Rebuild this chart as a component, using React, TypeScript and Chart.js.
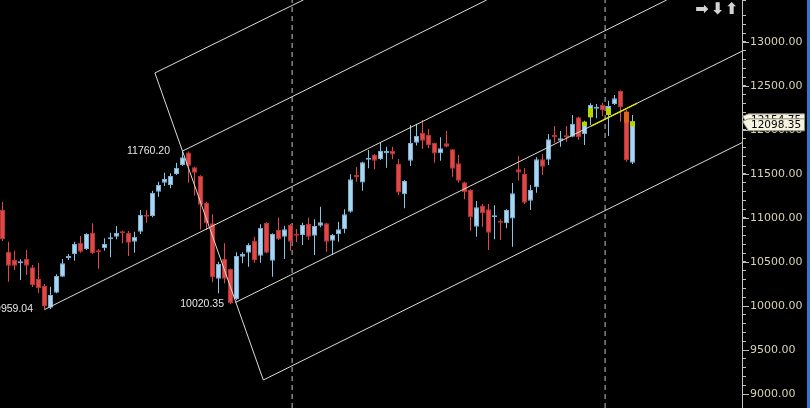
import React, { useEffect, useRef } from 'react';
import { Chart, registerables } from 'chart.js';

Chart.register(...registerables);

// ---- candle data (daily bars, index 0 = leftmost) ----
const opens = [
  11091, 10617, 10522, 10485, 10534, 10439, 10306, 10227, 9980, 10151,
  10333, 10545, 10591, 10719, 10647, 10833, 10628, 10655, 10758, 10787,
  10844, 10833, 10730, 10844, 11034, 11022, 11299, 11401, 11375, 11500,
  11602, 11745, 11576, 11477, 11170, 10940, 10310, 10534, 10420, 10079,
  10560, 10605, 10738, 10571, 10943, 10514, 10864, 10787, 10920, 10818,
  10806, 10932, 10799, 10912, 10940, 10742, 10815, 10871, 11071, 11488,
  11403, 11662, 11716, 11670, 11735, 11761, 11614, 11269, 11651, 11856,
  11966, 11943, 11852, 11735, 11849, 11781, 11621, 11406, 11318, 10901,
  11142, 11099, 11008, 10966, 10940, 10994, 11553, 11500, 11196, 11349,
  11667, 11662, 11943, 11878, 11932, 11924, 12144, 11951, 12144, 12242,
  12284, 12170, 12295, 12443, 12208, 11628,
];
const highs = [
  11182, 10730, 10628, 10531, 10636, 10466, 10488, 10250, 10219, 10360,
  10534, 10591, 10730, 10795, 10826, 10939, 10644, 10769, 10833, 10909,
  10855, 10852, 10844, 11091, 11091, 11310, 11412, 11515, 11508, 11628,
  11760.2, 11755, 11583, 11485, 11185, 11042, 10503, 10712, 10425, 10610,
  10610, 10712, 10787, 10928, 10951, 10826, 11003, 10912, 10932, 10875,
  10946, 11003, 10985, 11128, 10946, 10818, 10958, 11099, 11497, 11579,
  11640, 11773, 11727, 11856, 11810, 11810, 11670, 11432, 12057, 12071,
  12114, 12011, 11855, 11917, 11989, 11784, 11716, 11412, 11326, 11193,
  11159, 11159, 11144, 10985, 11099, 11398, 11705, 11565, 11375, 11690,
  11727, 11954, 12045, 11989, 12045, 12170, 12150, 12106, 12303, 12295,
  12310, 12333, 12398, 12450, 12227, 12170,
];
const lows = [
  10739, 10276, 10409, 10295, 10352, 10216, 10147, 9959.04, 9965, 10144,
  10330, 10522, 10514, 10605, 10636, 10591, 10424, 10628, 10553, 10758,
  10712, 10568, 10605, 10818, 10950, 11008, 11242, 11363, 11337, 11488,
  11591, 11401, 11256, 10869, 10864, 10269, 10144, 10258, 10020.35, 10068,
  10485, 10446, 10492, 10492, 10599, 10333, 10750, 10534, 10628, 10724,
  10693, 10750, 10579, 10894, 10617, 10579, 10730, 10826, 11060, 11412,
  11310, 11565, 11553, 11659, 11571, 11667, 11261, 11110, 11591, 11824,
  11784, 11792, 11628, 11651, 11803, 11469, 11401, 11212, 10856, 10787,
  10901, 10636, 10758, 10750, 10883, 10674, 11426, 11159, 11091, 11287,
  11488, 11602, 11856, 11810, 11867, 11917, 11886, 11829, 12057, 12133,
  12159, 11932, 12284, 12094, 11640, 11613,
];
const closes = [
  10761, 10458, 10458, 10508, 10458, 10235, 10201, 10000, 10125, 10341,
  10485, 10568, 10704, 10617, 10818, 10599, 10610, 10704, 10772, 10833,
  10826, 10719, 10787, 11034, 11015, 11287, 11375, 11443, 11477, 11571,
  11690, 11594, 11515, 11151, 10940, 10326, 10477, 10310, 10030, 10568,
  10591, 10693, 10522, 10886, 10605, 10818, 10758, 10871, 10730, 10799,
  10920, 10787, 10909, 10951, 10730, 10806, 10871, 11042, 11440, 11460,
  11633, 11678, 11651, 11761, 11761, 11721, 11290, 11420, 11852, 11932,
  11878, 11829, 11733, 11792, 11810, 11560, 11424, 11292, 11008, 11122,
  11053, 10833, 11030, 10946, 11091, 11281, 11517, 11174, 11318, 11668,
  11583, 11894, 11917, 11905, 11917, 12068, 11917, 12094, 12284, 12258,
  12227, 12273, 12360, 12258, 11659, 12098.35,
];

// highlighted body segments (lime / orange) near the yellow line
const highlightIdx = [97, 98, 101, 104, 105];
const highlightFrom = [12045, 12144, 12170, 12085, 12040];
const highlightTo = [12094, 12250, 12250, 12208, 12098];
const highlightKind = ['lime', 'lime', 'lime', 'orange', 'lime'];

// channel / pitchfork lines (bar index, price)
const lineFromIdx = [25.4, 25.4, 30.0, 7.0, 38.8, 43.47];
const lineFromPrice = [12648, 12648, 11760.2, 9959.04, 10040, 9159];
const lineToIdx = [43.47, 50.2, 80.7, 110.7, 123.4, 123.4];
const lineToPrice = [9159, 13480, 13477, 13477, 12900, 11861];

// yellow highlighted segment
const yellowIdx = [98.1, 105.8];
const yellowPrice = [12044, 12305];

// vertical dashed separators
const dividerIdx = [48.27, 100.43];

// price annotations
const labelIdx = [30, 38, 7];
const labelPrice = [11760.2, 10020.35, 9959.04];
const labelText = ['11760.20', '10020.35', '9959.04'];

// axis
const yMin = 8841;
const yMax = 13477;
const yTickStep = 100;
const yLabelStep = 500;
const xMin = -0.41667;
const xMax = 123.25;

// price tags
const tagPrices = [12154.75, 12098.35];
const tagTexts = ['12154.75', '12098.35'];

const RED = '#e04848';
const RED_BORDER = '#b83434';
const BLUE = '#a9d5ee';
const BLUE_BORDER = '#78aed6';
const BLUE_WICK = '#8cc4e6';
const LIME = '#b4d600';
const ORANGE = '#e4621c';
const LINE = '#dcdcd4';

const overlayPlugin = {
  id: 'overlayPlugin',
  afterDraw(chart: any) {
    const ctx = chart.ctx;
    const xs = chart.scales.x;
    const ys = chart.scales.y;
    ctx.save();
    // major ticks
    ctx.strokeStyle = '#bdbdbd';
    ctx.lineWidth = 1;
    ys.ticks.forEach((t: any) => {
      if (Math.abs(t.value % yLabelStep) < 1e-6) {
        const py = Math.round(ys.getPixelForValue(t.value)) + 0.5;
        ctx.beginPath();
        ctx.moveTo(ys.left, py);
        ctx.lineTo(ys.left + 7, py);
        ctx.stroke();
      }
    });
    // annotations
    const dx = [12.5, 6.5, 11.5];
    ctx.font = '10.5px "Liberation Sans", Arial, sans-serif';
    ctx.fillStyle = '#e6e6e6';
    ctx.textAlign = 'right';
    ctx.textBaseline = 'middle';
    labelText.forEach((t, k) => {
      const px = xs.getPixelForValue(labelIdx[k]) - dx[k];
      const py = ys.getPixelForValue(labelPrice[k]);
      ctx.fillText(t, px, py);
    });
    // tags
    tagPrices.forEach((p, k) => {
      const y = ys.getPixelForValue(p);
      const top = y - 2.5;
      const bot = y + 9.5;
      const l = ys.left;
      ctx.beginPath();
      ctx.moveTo(l + 0.5, y);
      ctx.lineTo(l + 6.5, top);
      ctx.lineTo(804.5, top);
      ctx.lineTo(804.5, bot);
      ctx.lineTo(l + 6.5, bot);
      ctx.closePath();
      ctx.fillStyle = '#f6f3de';
      ctx.fill();
      ctx.strokeStyle = '#8c8c84';
      ctx.stroke();
      ctx.fillStyle = '#000';
      ctx.font = '10.5px "DejaVu Sans", sans-serif';
      ctx.textAlign = 'left';
      ctx.textBaseline = 'middle';
      ctx.fillText(tagTexts[k], l + 9, (top + bot) / 2 + 0.5);
    });
    // arrows
    ctx.fillStyle = '#d2d2d2';
    ctx.font = 'bold 16px "DejaVu Sans", sans-serif';
    ctx.textAlign = 'center';
    ctx.textBaseline = 'middle';
    ctx.fillText('\u27A1', 702, 10);
    ctx.fillText('\u2B07', 717.5, 10);
    ctx.fillText('\u2B06', 731.5, 10);
    // right blue stripe
    ctx.fillStyle = '#2c7bd0';
    ctx.fillRect(807, 0, 3, chart.height);
    ctx.restore();
  },
};

export default function App() {
  const ref = useRef<HTMLCanvasElement>(null);

  useEffect(() => {
    document.body.style.margin = '0';
    document.body.style.background = '#000';
    const idx = opens.map((_, i) => i);
    const up = closes.map((c, i) => c >= opens[i]);

    const wickData = idx.map((i) => ({ x: i, y: [lows[i], highs[i]] }));
    const bodyData = idx.map((i) => ({ x: i, y: [opens[i], closes[i]] }));
    const hlData = highlightIdx.map((i, k) => ({ x: i, y: [highlightFrom[k], highlightTo[k]] }));

    const lineSets: any[] = lineFromIdx.map((_, k) => ({
      type: 'line',
      data: [
        { x: lineFromIdx[k], y: lineFromPrice[k] },
        { x: lineToIdx[k], y: lineToPrice[k] },
      ],
      borderColor: LINE,
      borderWidth: 1,
      pointRadius: 0,
      fill: false,
      order: 1,
    }));
    const dividerSets: any[] = dividerIdx.map((d) => ({
      type: 'line',
      data: [
        { x: d, y: yMin },
        { x: d, y: yMax },
      ],
      borderColor: '#c4c4c4',
      borderWidth: 1,
      borderDash: [5, 4],
      pointRadius: 0,
      fill: false,
      order: 6,
    }));
    const yellowSet: any = {
      type: 'line',
      data: [
        { x: yellowIdx[0], y: yellowPrice[0] },
        { x: yellowIdx[1], y: yellowPrice[1] },
      ],
      borderColor: '#e2e200',
      borderWidth: 1.5,
      pointRadius: 0,
      fill: false,
      order: 0,
    };

    const chart = new Chart(ref.current as HTMLCanvasElement, {
      type: 'bar',
      data: {
        datasets: [
          ...lineSets,
          yellowSet,
          ...dividerSets,
          {
            type: 'bar',
            data: hlData as any,
            backgroundColor: highlightKind.map((k) => (k === 'lime' ? LIME : ORANGE)),
            barThickness: 5,
            grouped: false,
            inflateAmount: 0,
            borderWidth: 0,
            order: 2,
          } as any,
          {
            type: 'bar',
            data: bodyData as any,
            backgroundColor: up.map((u) => (u ? BLUE : RED)),
            borderColor: up.map((u) => (u ? BLUE_BORDER : RED_BORDER)),
            borderWidth: 1,
            borderSkipped: false,
            barThickness: 5,
            minBarLength: 2,
            grouped: false,
            inflateAmount: 0,
            order: 3,
          } as any,
          {
            type: 'bar',
            data: wickData as any,
            backgroundColor: up.map((u) => (u ? BLUE_WICK : RED)),
            borderWidth: 0,
            barThickness: 1,
            grouped: false,
            inflateAmount: 0,
            order: 4,
          } as any,
        ],
      },
      options: {
        responsive: false,
        devicePixelRatio: 1,
        animation: false,
        events: [],
        layout: { padding: 0 },
        plugins: {
          legend: { display: false },
          tooltip: { enabled: false },
        },
        scales: {
          x: {
            type: 'linear',
            min: xMin,
            max: xMax,
            display: false,
            offset: false,
          },
          y: {
            type: 'linear',
            position: 'right',
            min: yMin,
            max: yMax,
            grid: {
              drawOnChartArea: false,
              drawTicks: true,
              tickLength: 4,
              tickColor: '#bdbdbd',
            },
            border: { display: true, color: '#c4c4c4' },
            ticks: {
              stepSize: yTickStep,
              autoSkip: false,
              padding: 4,
              color: '#d6d2b4',
              font: { family: '"DejaVu Sans", sans-serif', size: 11 },
              callback: (v: any) => (Math.abs(Number(v) % yLabelStep) < 1e-6 ? Number(v).toFixed(2) : ''),
            },
            afterFit: (scale: any) => {
              scale.width = 68;
              scale.paddingTop = 0;
              scale.paddingBottom = 0;
            },
          },
        },
      } as any,
      plugins: [overlayPlugin],
    });
    return () => chart.destroy();
  }, []);

  return (
    <div style={{ position: 'fixed', left: 0, top: 0, width: 810, height: 408, background: '#000' }}>
      <canvas ref={ref} width={810} height={408} style={{ display: 'block' }} />
    </div>
  );
}
